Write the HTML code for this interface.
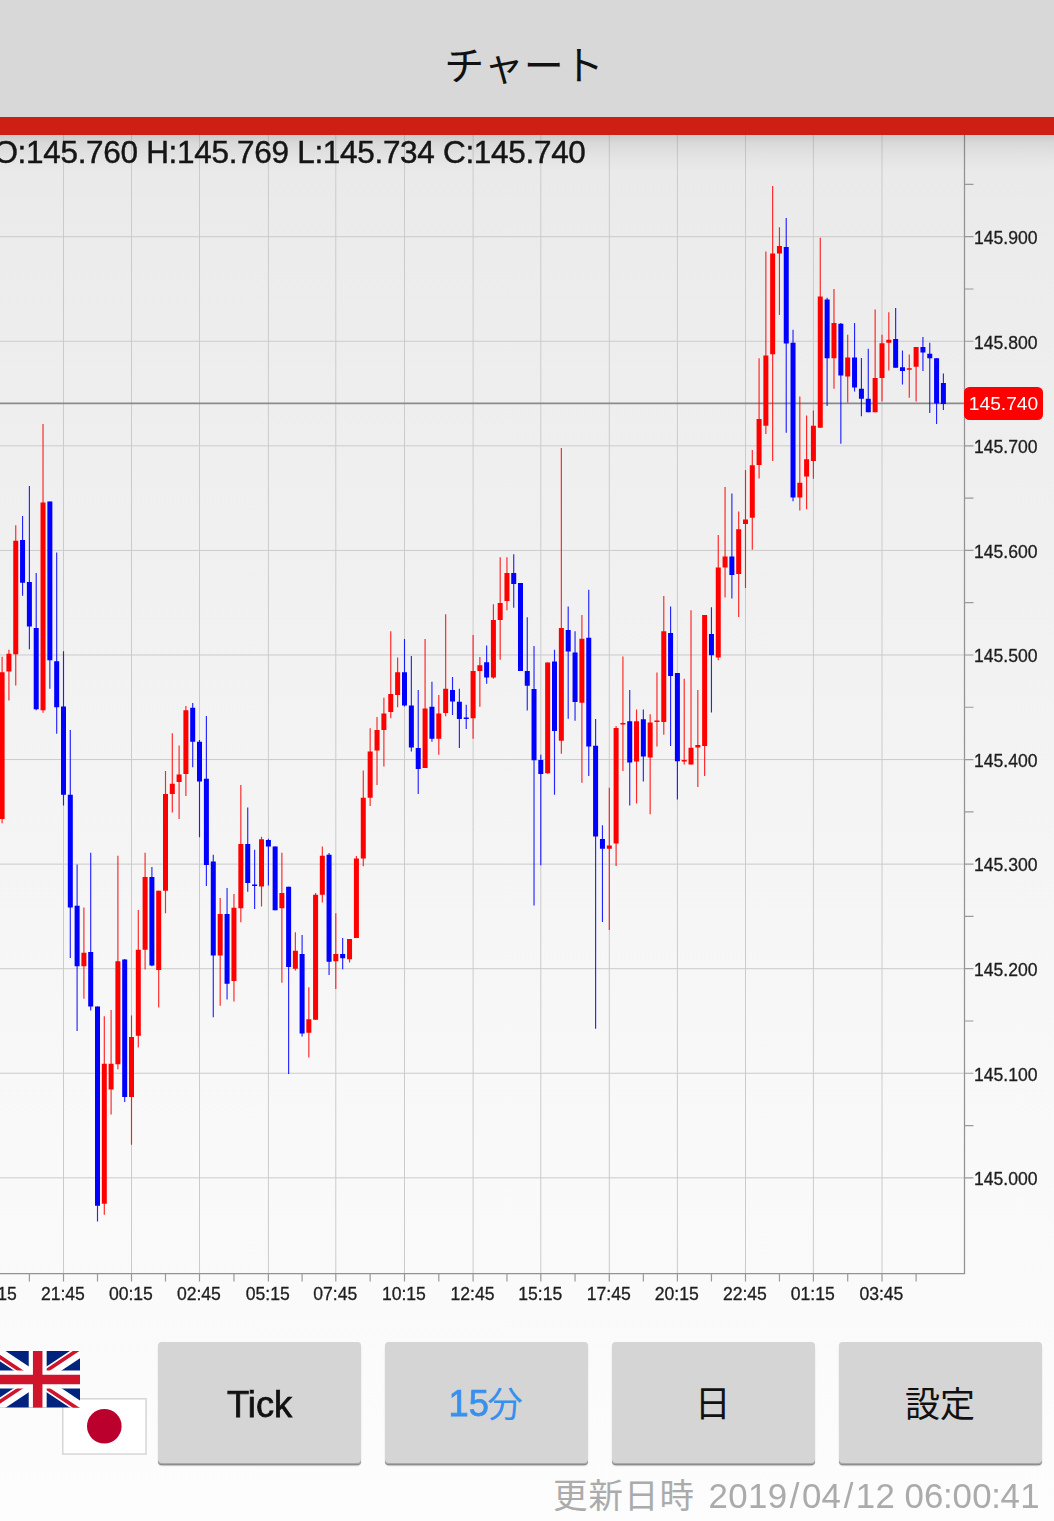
<!DOCTYPE html>
<html lang="ja"><head><meta charset="utf-8"><title>チャート</title>
<style>
html,body{margin:0;padding:0}
body{width:1054px;height:1521px;overflow:hidden;position:relative;background:#fcfcfc;font-family:"Liberation Sans",sans-serif;color:#222}
#hdr{position:absolute;left:0;top:0;width:1054px;height:117px;background:#d8d8d8}
#bar{position:absolute;left:0;top:117px;width:1054px;height:18px;background:#cd1f14}
#main{position:absolute;left:0;top:135px;width:1054px;height:1386px;background:linear-gradient(#e9e9e9 0px,#ececec 120px,#f3f3f3 600px,#f7f7f7 865px,#f9f9f9 1005px,#fafafa 1165px,#fdfdfd 100%)}
#shadow{position:absolute;left:0;top:135px;width:1054px;height:36px;background:linear-gradient(rgba(0,0,0,.13),rgba(0,0,0,.07) 22%,rgba(0,0,0,.03) 55%,rgba(0,0,0,0))}
#chart{position:absolute;left:0;top:0}
#ohlc{position:absolute;left:-6.6px;top:134px;font-size:31.5px;line-height:36px;white-space:nowrap;color:#151515;letter-spacing:-.31px;-webkit-text-stroke:.45px #151515}
.yl{position:absolute;left:974px;font-size:17.6px;line-height:20px;height:20px;white-space:nowrap;color:#1e1e1e;-webkit-text-stroke:.3px #1e1e1e}
.xl{position:absolute;top:1284px;width:70px;margin-left:-35px;text-align:center;font-size:17.6px;line-height:20px;white-space:nowrap;color:#1e1e1e;-webkit-text-stroke:.3px #1e1e1e}
#tag{position:absolute;left:964px;top:387px;width:79px;height:33px;border-radius:5.5px;background:#fe0000}
#tagt{position:absolute;left:964px;top:387px;width:79px;height:33px;color:#fff;font-size:19.2px;line-height:33px;text-align:center;white-space:nowrap}
#txt{position:absolute;left:0;top:0;width:1054px;height:1521px;will-change:transform}
.btn{position:absolute;top:1342px;width:202.6px;margin-left:.3px;height:120.6px;background:#d5d5d5;border-radius:3.5px 3.5px 4px 4px;box-shadow:0 1.2px 0 #a9a9a9,0 2.3px 0 #858585,0 3px 1.5px rgba(0,0,0,.16);text-align:center;font-size:36.5px;line-height:122px;color:#111}
.btn svg{position:absolute;left:0;top:0}
.lt{position:absolute;top:1383px;font-size:36.3px;line-height:42px;white-space:nowrap;color:#111;-webkit-text-stroke:.75px currentColor}
#upd{position:absolute;left:708.6px;top:1475.5px;font-size:34.8px;line-height:40px;color:#ababab;white-space:pre;letter-spacing:.35px}
.sl{margin:0 2.2px 0 2.3px}.co{margin:0 -.7px}.sp{margin-right:-.9px}
svg{display:block}
svg text{font-family:"Liberation Sans","Noto Sans CJK JP",sans-serif}

</style></head><body>
<div id="hdr"></div><div id="bar"></div><div id="main"></div>
<svg id="title" role="img" aria-label="チャート" style="position:absolute;left:0;top:0" width="1054" height="117" viewBox="0 0 1054 117"><text x="524" y="79.5" font-size="40" fill="#111" text-anchor="middle">チャート</text></svg>
<svg id="chart" width="1054" height="1330" viewBox="0 0 1054 1330" shape-rendering="auto">
<path d="M63.5 135V1273.5M131.5 135V1273.5M199.5 135V1273.5M268.4 135V1273.5M335.8 135V1273.5M404.5 135V1273.5M473.1 135V1273.5M540.8 135V1273.5M609.3 135V1273.5M677.4 135V1273.5M745.5 135V1273.5M813.4 135V1273.5M882 135V1273.5M0 236.7H964.5M0 341.27H964.5M0 445.84H964.5M0 550.41H964.5M0 654.98H964.5M0 759.55H964.5M0 864.12H964.5M0 968.69H964.5M0 1073.26H964.5M0 1177.83H964.5" stroke="#cbcbcb" stroke-width="1" fill="none"/>
<path d="M964.5 135V1273.5M0 1273.5H965.1" stroke="#929292" stroke-width="1.25" fill="none"/>
<path d="M964.5 184.42h9M964.5 236.7h9M964.5 288.99h9M964.5 341.27h9M964.5 393.56h9M964.5 445.84h9M964.5 498.13h9M964.5 550.41h9M964.5 602.7h9M964.5 654.98h9M964.5 707.27h9M964.5 759.55h9M964.5 811.84h9M964.5 864.12h9M964.5 916.41h9M964.5 968.69h9M964.5 1020.98h9M964.5 1073.26h9M964.5 1125.55h9M964.5 1177.83h9M29.39 1273.5v8M63.5 1273.5v8M97.5 1273.5v8M131.5 1273.5v8M165.5 1273.5v8M199.5 1273.5v8M233.95 1273.5v8M268.4 1273.5v8M302.1 1273.5v8M335.8 1273.5v8M370.15 1273.5v8M404.5 1273.5v8M438.8 1273.5v8M473.1 1273.5v8M506.95 1273.5v8M540.8 1273.5v8M575.05 1273.5v8M609.3 1273.5v8M643.35 1273.5v8M677.4 1273.5v8M711.45 1273.5v8M745.5 1273.5v8M779.45 1273.5v8M813.4 1273.5v8M847.7 1273.5v8M882 1273.5v8M916.11 1273.5v8" stroke="#9a9a9a" stroke-width="1.2" fill="none"/>
<path d="M0 403.41H964.5" stroke="#8a8a8a" stroke-width="1.8" fill="none"/>
<path d="M2.1 656.7V823.2M8.92 649.8V700.6M15.75 525.3V685.6M43.03 424.1V712.7M83.9 907.5V998.8M104.3 1016.3V1214.7M111.1 1009.9V1114.5M117.9 855.7V1069.2M131.5 1015.6V1144.8M138.3 910V1047.6M145.1 852.8V969.4M158.7 890.8V1007.4M165.5 771V913.2M172.3 733.2V812.6M179.1 745.5V819M185.9 706.1V796M220.17 897.9V1005.7M233.95 894V1001.5M240.84 785V922.3M261.51 836.7V906.5M281.88 852.8V982.8M295.36 932.2V970.4M308.84 987.2V1057.5M315.58 893V1019.8M322.32 846.6V902.6M335.8 913.2V988.9M349.54 939.1V962.5M356.41 856V937.9M363.28 770.6V866.3M370.15 728.2V805.9M377.02 717.1V784.9M383.89 697.8V766.4M390.76 631.2V718.3M397.63 657.4V707.2M425.08 638.9V768.1M438.8 694.9V754.8M445.66 614.2V716.3M473.1 634.9V738.8M479.87 657.1V706.7M493.41 604.3V678.8M500.18 557.2V659.8M506.95 557.2V610.3M547.65 662.5V773.8M561.35 447.9V753.7M581.9 615.1V782.8M609.3 787.7V929.9M616.11 726V866M622.92 656.6V771M636.54 709.4V803.5M650.16 714.3V814.2M656.97 672.6V746.6M663.78 595.9V734.8M684.21 678.8V764.4M691.02 610.2V764.4M697.83 689.9V787.1M704.64 615.1V776M718.26 535V660.3M725.07 486.9V597.4M738.69 511.5V617.1M745.5 470.1V588M752.29 449.9V549.8M759.08 358.2V478.5M765.87 251.4V433.9M772.66 186V461.1M779.45 227.2V315M799.82 396.4V510.4M806.61 415.4V509.2M813.4 410.5V478.8M820.26 237.8V427.8M833.98 289.1V388.8M847.7 334.8V402.4M875.14 309.4V412.2M882 334.8V401.4M888.82 312.3V370.5M909.29 354.5V397.7M916.11 346.9V401.4" stroke="#ff0000" stroke-width="1.15" fill="none" stroke-opacity=".85"/>
<path d="M22.57 516.1V595.8M29.39 486V649.3M36.21 572.9V710.3M49.86 501.6V688.8M56.68 552.4V733.7M63.5 651.3V805.4M70.3 730V958.1M77.1 864.4V1030.9M90.7 852.8V1010.6M97.5 1006.4V1221.6M124.7 958.9V1101.9M151.9 867.1V966.2M192.7 703.1V767.2M199.5 740V837.2M206.39 716V886.1M213.28 854.7V1017.3M227.06 888V999.5M247.73 807.6V891.7M254.62 849.8V909M268.4 838.7V885.6M275.14 846.6V910.2M288.62 886.8V1074M302.1 934.9V1036.5M329.06 853V974.9M342.67 937.9V969.2M404.5 638.9V706.5M411.36 656.1V751.6M418.22 689.9V794M431.94 681.8V741.7M452.52 676.9V715.1M459.38 688.7V747.9M466.24 704.7V728.9M486.64 645.5V683.8M513.72 554.3V607.8M520.49 583.1V670.9M527.26 617.2V710.4M534.03 646V905.5M540.8 754.8V865.3M554.5 649.7V794.7M568.2 606.5V718.7M575.05 631.2V720.7M588.75 589.7V776M595.6 718.9V1028.8M602.45 825.3V922M629.73 689.9V805.6M643.35 709.4V781.6M670.59 606.5V745.9M677.4 673.1V799.5M711.45 607.2V712.6M731.88 493.5V598.6M786.24 218.1V432.7M793.03 329.8V501.3M827.12 297.8V406.1M840.84 322.9V443.8M854.56 322.9V391.5M861.42 358V416.2M868.28 348.8V412.2M895.64 308.1V367.8M902.47 350.6V384.6M922.93 337V371M929.75 342.7V413M936.58 358.2V424.1M943.4 373.5V410" stroke="#0000ff" stroke-width="1.15" fill="none" stroke-opacity=".85"/>
<path d="M-0.4 672.3h5V819h-5zM6.42 653.8h5V671.5h-5zM13.25 540.8h5V654.3h-5zM40.53 502.6h5V710.3h-5zM81.4 952.7h5V966.2h-5zM101.8 1063.7h5V1203.8h-5zM108.6 1063.7h5V1089.6h-5zM115.4 961.3h5V1064.2h-5zM129 1037h5V1097h-5zM135.8 949.7h5V1035.8h-5zM142.6 876.9h5V949.7h-5zM156.2 890.8h5V969.9h-5zM163 794.1h5V890.8h-5zM169.8 783.8h5V794.1h-5zM176.6 774.4h5V782h-5zM183.4 710.3h5V773.9h-5zM217.67 913.9h5V955.6h-5zM231.45 907.8h5V981h-5zM238.34 844.1h5V908.3h-5zM259.01 839.2h5V886.6h-5zM279.38 893h5V908.3h-5zM292.86 950.7h5V968.7h-5zM306.34 1019.3h5V1032.8h-5zM313.08 894.7h5V1019.8h-5zM319.82 855.7h5V894.7h-5zM333.3 953.9h5V961.3h-5zM347.04 939.1h5V959.3h-5zM353.91 858.4h5V937.9h-5zM360.78 797.7h5V858.4h-5zM367.65 751.6h5V797.7h-5zM374.52 729.9h5V750.4h-5zM381.39 713.4h5V729.9h-5zM388.26 694.1h5V712.1h-5zM395.13 672.2h5V694.9h-5zM422.58 708.4h5V768.1h-5zM436.3 713.4h5V738.8h-5zM443.16 688.7h5V712.9h-5zM470.6 670.9h5V718.3h-5zM477.37 665.3h5V670.9h-5zM490.91 620.1h5V677.6h-5zM497.68 602.9h5V620.1h-5zM504.45 573h5V601.1h-5zM545.15 662.5h5V773.2h-5zM558.85 628h5V740.8h-5zM579.4 638.8h5V702.7h-5zM606.8 845.5h5V848.7h-5zM613.61 727.9h5V843.6h-5zM620.42 722.9h5V724.5h-5zM634.04 721.2h5V761.4h-5zM647.66 722.4h5V757.5h-5zM654.47 720.4h5V722h-5zM661.28 631.2h5V721.9h-5zM681.71 759.95h5V761.55h-5zM688.52 747.8h5V764.4h-5zM695.33 745.1h5V747.6h-5zM702.14 615.1h5V745.9h-5zM715.76 567.5h5V657.6h-5zM722.57 556.4h5V567.5h-5zM736.19 529.3h5V573.9h-5zM743 519.4h5V523.9h-5zM749.79 465.2h5V517.7h-5zM756.58 419.1h5V464.9h-5zM763.37 355.5h5V425.8h-5zM770.16 253.4h5V354.3h-5zM776.95 246h5V253.4h-5zM797.32 482.8h5V497.6h-5zM804.11 459.3h5V476.6h-5zM810.9 425.8h5V461.1h-5zM817.76 296.5h5V427.8h-5zM831.48 322.9h5V358.2h-5zM845.2 357.5h5V376.5h-5zM872.64 377.9h5V412.2h-5zM879.5 343.2h5V377.9h-5zM886.32 339.7h5V342.7h-5zM906.79 368.2h5V369.8h-5zM913.61 346.9h5V366.8h-5z" fill="#fe0000"/>
<path d="M20.07 540.1h5V582.7h-5zM26.89 582h5V626.6h-5zM33.71 627.9h5V709.3h-5zM47.36 501.6h5V660.2h-5zM54.18 661.2h5V707.3h-5zM61 706.6h5V794.8h-5zM67.8 794.8h5V907.5h-5zM74.6 905.8h5V966.2h-5zM88.2 951.9h5V1006.4h-5zM95 1006.4h5V1205.7h-5zM122.2 959.6h5V1097h-5zM149.4 876.9h5V965.5h-5zM190.2 707.8h5V741.8h-5zM197 741.8h5V781.5h-5zM203.89 778.8h5V865.1h-5zM210.78 861.4h5V955.6h-5zM224.56 913.9h5V983.8h-5zM245.23 844.1h5V882.9h-5zM252.12 884.45h5V886.05h-5zM265.9 839.9h5V846.6h-5zM272.64 846.6h5V910.2h-5zM286.12 886.8h5V967h-5zM299.6 953.9h5V1033.6h-5zM326.56 854.7h5V961.8h-5zM340.17 953.9h5V958.3h-5zM402 672.2h5V705.5h-5zM408.86 705.5h5V747.4h-5zM415.72 747.9h5V768.9h-5zM429.44 706.7h5V738.8h-5zM450.02 689.9h5V701.5h-5zM456.88 701.8h5V719h-5zM463.74 717.45h5V719.05h-5zM484.14 662.3h5V677.6h-5zM511.22 573h5V583.9h-5zM517.99 583.1h5V670.9h-5zM524.76 670.9h5V685.7h-5zM531.53 689.1h5V760.3h-5zM538.3 759.9h5V774h-5zM552 661.5h5V731h-5zM565.7 629.9h5V651.6h-5zM572.55 652.6h5V702h-5zM586.25 637.8h5V746.5h-5zM593.1 745.8h5V836.4h-5zM599.95 838.9h5V848.7h-5zM627.23 721.2h5V762.4h-5zM640.85 719.2h5V756.5h-5zM668.09 632.9h5V676.1h-5zM674.9 673.1h5V761.2h-5zM708.95 634.1h5V655.3h-5zM729.38 556.4h5V574.9h-5zM783.74 247h5V343.4h-5zM790.53 342.7h5V497.6h-5zM824.62 299.5h5V358.2h-5zM838.34 323.7h5V375.5h-5zM852.06 357.5h5V387.6h-5zM858.92 388.8h5V398.7h-5zM865.78 398.7h5V412.2h-5zM893.14 339h5V367.8h-5zM899.97 367.3h5V371h-5zM920.43 346.9h5V352.5h-5zM927.25 353.8h5V358.2h-5zM934.08 358.2h5V403.5h-5zM940.9 383h5V404h-5z" fill="#0000fe"/>
</svg>
<div id="shadow"></div>
<div id="tag"></div>
<svg id="jp" style="position:absolute;left:61.5px;top:1398px" width="85" height="57" viewBox="0 0 85 57">
<rect x="0.75" y="0.75" width="83.3" height="55.3" fill="#fff" stroke="#d6d6d6" stroke-width="1.5"/>
<circle cx="42.3" cy="28.2" r="17.3" fill="#bc002d"/></svg>
<svg id="uk" style="position:absolute;left:-5.2px;top:1350.9px;filter:blur(.45px)" width="85.4" height="56.7" viewBox="0 0 60 40" preserveAspectRatio="none">
<clipPath id="c"><rect width="60" height="40"/></clipPath>
<g clip-path="url(#c)">
<rect width="60" height="40" fill="#00247d"/>
<path d="M0 0L60 40M60 0L0 40" stroke="#fff" stroke-width="8.2"/>
<path d="M0 0L30 20M60 40L30 20" stroke="#cf142b" stroke-width="2.6" transform="translate(-1.25 1.15)"/>
<path d="M60 0L30 20M0 40L30 20" stroke="#cf142b" stroke-width="2.6" transform="translate(-1.25 -1.15)"/>
<path d="M30 0V40M0 20.1H60" stroke="#fff" stroke-width="12.6"/>
<path d="M30 0V40M0 20.1H60" stroke="#cf142b" stroke-width="6.7"/>
</g></svg>
<div class="btn" style="left:158px"></div>
<div class="btn" style="left:385px"><svg role="img" aria-label="分" width="203" height="122" viewBox="385 1342 203 122"><text x="487.3" y="1417.3" font-size="35.5" fill="#3890ee">分</text></svg></div>
<div class="btn" style="left:612px"><svg role="img" aria-label="日" width="203" height="122" viewBox="612 1342 203 122"><text x="712.8" y="1417" font-size="36" fill="#111" text-anchor="middle">日</text></svg></div>
<div class="btn" style="left:839px"><svg role="img" aria-label="設定" width="203" height="122" viewBox="839 1342 203 122"><text x="940" y="1417" font-size="35" fill="#111" text-anchor="middle">設定</text></svg></div>
<svg role="img" aria-label="更新日時" style="position:absolute;left:540px;top:1470px" width="170" height="51" viewBox="540 1470 170 51"><text x="553" y="1507.7" font-size="34.5" fill="#ababab" letter-spacing="1">更新日時</text></svg>
<div id="txt"><div id="ohlc">O:145.760 H:145.769 L:145.734 C:145.740</div><div class="yl" style="top:228px">145.900</div><div class="yl" style="top:332.57px">145.800</div><div class="yl" style="top:437.14px">145.700</div><div class="yl" style="top:541.71px">145.600</div><div class="yl" style="top:646.28px">145.500</div><div class="yl" style="top:750.85px">145.400</div><div class="yl" style="top:855.42px">145.300</div><div class="yl" style="top:959.99px">145.200</div><div class="yl" style="top:1064.56px">145.100</div><div class="yl" style="top:1169.13px">145.000</div><div id="tagt">145.740</div><div class="xl" style="left:-5.32px">19:15</div><div class="xl" style="left:62.9px">21:45</div><div class="xl" style="left:130.9px">00:15</div><div class="xl" style="left:198.9px">02:45</div><div class="xl" style="left:267.8px">05:15</div><div class="xl" style="left:335.2px">07:45</div><div class="xl" style="left:403.9px">10:15</div><div class="xl" style="left:472.5px">12:45</div><div class="xl" style="left:540.2px">15:15</div><div class="xl" style="left:608.7px">17:45</div><div class="xl" style="left:676.8px">20:15</div><div class="xl" style="left:744.9px">22:45</div><div class="xl" style="left:812.8px">01:15</div><div class="xl" style="left:881.4px">03:45</div><div class="lt" style="left:227px;top:1384px">Tick</div><div class="lt" style="left:448.5px;color:#3890ee">15</div><div id="upd">2019<span class="sl">/</span>04<span class="sl">/</span>12<span class="sp"> </span>06<span class="co">:</span>00<span class="co">:</span>41</div></div>
</body></html>
